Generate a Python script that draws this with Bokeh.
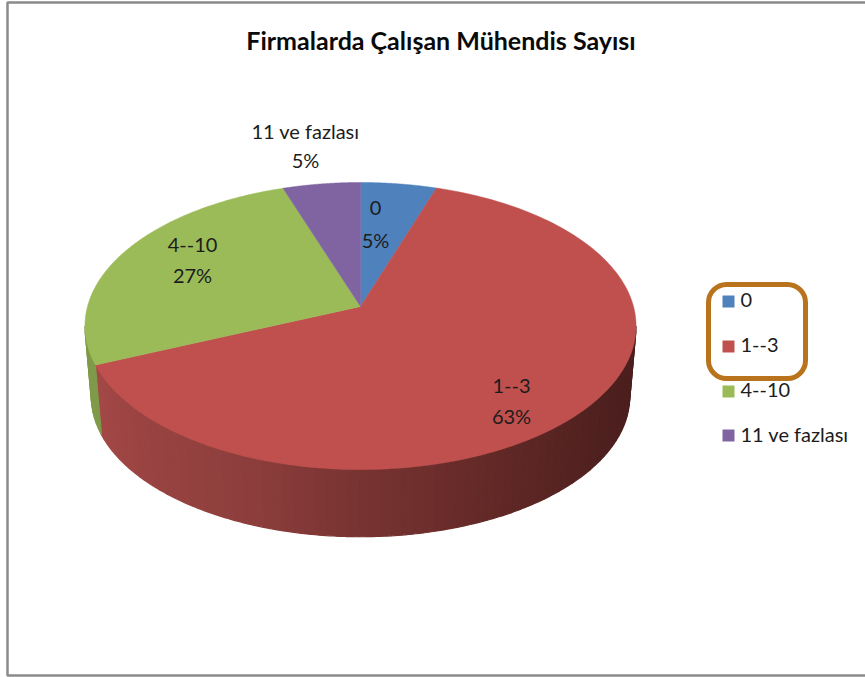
import numpy as np
from bokeh.plotting import figure, ColumnDataSource
from bokeh.models import Range1d, BoxAnnotation
from bokeh.core.properties import value
from bokeh.embed import file_html
from bokeh.resources import INLINE

# ---- chart data ----
categories = ["0", "1--3", "4--10", "11 ve fazlası"]
shares = [5.1, 63.6, 26.3, 5.2]          # slice sizes
percent_labels = ["5%", "63%", "27%", "5%"]
colors = ["#4f81bd", "#c0504d", "#9bbb59", "#8064a2"]
title = "Firmalarda Çalışan Mühendis Sayısı"

# ---- layout (page pixels) ----
W, H = 865, 677
CX, APEX_Y, R, TILT, PERSP = 360.0, 306.0, 273.0, 99.3, 0.1359
DEPTH_SCALE, DEPTH_SHIFT = 0.977, 70.5
ELL_CY = 325.5
FONT = "Lato"


def top_xy(theta):
    """Perspective projection of the pie's top disc; theta clockwise from 12 o'clock."""
    u, v = np.sin(theta), np.cos(theta)
    w = 1 + PERSP * v
    return CX + R * u / w, (APEX_Y - TILT * v) / w


def bottom_xy(theta):
    x, y = top_xy(theta)
    return CX + DEPTH_SCALE * (x - CX), ELL_CY + DEPTH_SHIFT + DEPTH_SCALE * (y - ELL_CY)


def mix(stops, t):
    pos = [s[0] for s in stops]
    rgb = [np.interp(t, pos, [s[1][i] for s in stops]) for i in range(3)]
    return "#%02x%02x%02x" % tuple(int(round(c)) for c in rgb)


p = figure(width=W, height=H, x_range=Range1d(0, W), y_range=Range1d(H, 0),
           output_backend="svg", toolbar_location=None, min_border=0)
p.axis.visible = False
p.grid.visible = False
p.outline_line_color = None
p.background_fill_color = "white"
p.border_fill_color = "white"

# chart frame
p.line([W + 5, 7, 7, W + 5], [2, 2, 675, 675], line_color="#8a8a8a", line_width=2.5)

fractions = np.array(shares) / sum(shares)
edges = np.concatenate([[0], np.cumsum(fractions)]) * 2 * np.pi

# side wall: gradient strips, red then green
right_limit = np.arccos(-PERSP)
red_stops = [(95, (0x4a, 0x1e, 0x1d)), (125, (0x4e, 0x20, 0x1f)), (150, (0x5e, 0x27, 0x25)),
             (180, (0x78, 0x33, 0x31)), (200, (0x8c, 0x3e, 0x3c)), (246, (0xa3, 0x48, 0x46))]
wall_x, wall_y, wall_c = [], [], []
for start, stop, stops in [(right_limit, edges[2], red_stops),
                           (edges[2], 2 * np.pi - right_limit, None)]:
    steps = np.linspace(start, stop, max(2, int(np.degrees(stop - start) / 2) + 1))
    for a, b in zip(steps[:-1], steps[1:]):
        seg = np.linspace(a, b, 4)
        tx, ty = top_xy(seg)
        bx, by = bottom_xy(seg[::-1])
        wall_x.append(list(tx) + list(bx))
        wall_y.append(list(ty) + list(by))
        wall_c.append(mix(stops, np.degrees((a + b) / 2)) if stops else "#7f9a49")
p.patches(wall_x, wall_y, fill_color=wall_c, line_color=wall_c, line_width=1.2)

# top disc
for i in range(len(shares)):
    seg = np.linspace(edges[i], edges[i + 1], 160)
    x, y = top_xy(seg)
    p.patch([CX] + list(x), [APEX_Y] + list(y), fill_color=colors[i], line_color=colors[i], line_width=0.5)

# data labels
label_x = [375, 511, 192, 305]
label_y = [207.5, 385.5, 244.5, 130.5]
label_gap = [32, 30, 30, 29]
for cat, pct, x, y, g in zip(categories, percent_labels, label_x, label_y, label_gap):
    p.text([x, x], [y, y + g], text=[cat, pct], text_align="center", text_baseline="middle",
           text_font=value(FONT), text_font_size="20px", text_color="#1c1c1c")

# title
p.text([440.5], [39], text=[title], text_align="center", text_baseline="middle",
       text_font=value(FONT), text_font_size="25px", text_font_style="bold", text_color="#0a0a0a")

# legend
legend_y = [301, 346, 391, 435]
src = ColumnDataSource(dict(x=[728] * 4, y=legend_y, c=colors, t=categories, tx=[740] * 4,
                            ty=[v - 1.5 for v in legend_y]))
p.rect("x", "y", width=12, height=12, fill_color="c", line_color=None, source=src)
p.text("tx", "ty", text="t", text_baseline="middle", text_font=value(FONT),
       text_font_size="20px", text_color="#1c1c1c", source=src)

# highlight box drawn over the legend
p.add_layout(BoxAnnotation(left=708, right=805, top=284, bottom=378, fill_alpha=0,
                           line_color="#b8731c", line_width=5, line_alpha=1, border_radius=18,
                           level="overlay"))

open("out.html", "w").write(file_html(p, INLINE))
